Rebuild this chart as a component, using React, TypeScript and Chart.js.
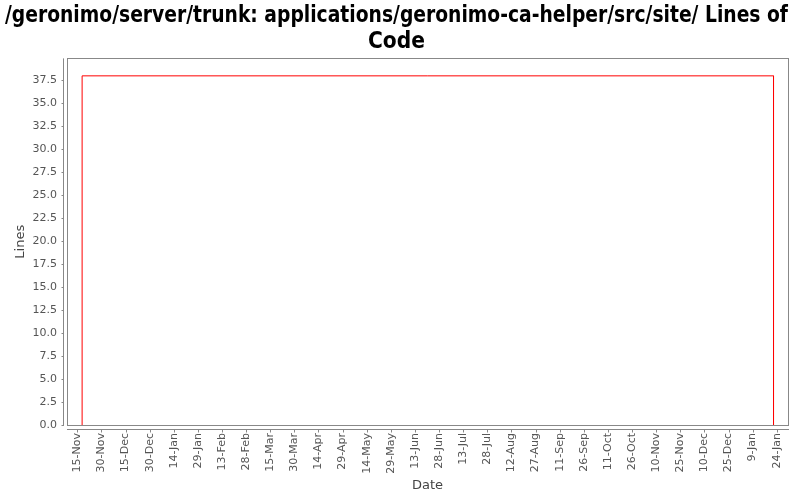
import React, { useEffect, useRef } from "react";
import { Chart, registerables } from "chart.js";

Chart.register(...registerables);

const titleLines = [
  "/geronimo/server/trunk: applications/geronimo-ca-helper/src/site/ Lines of",
  "Code",
];
// x tick labels, 15 days apart, starting at 15-Nov (day 0)
const tickLabels = [
  "15-Nov", "30-Nov", "15-Dec", "30-Dec", "14-Jan", "29-Jan", "13-Feb", "28-Feb",
  "15-Mar", "30-Mar", "14-Apr", "29-Apr", "14-May", "29-May", "13-Jun", "28-Jun",
  "13-Jul", "28-Jul", "12-Aug", "27-Aug", "11-Sep", "26-Sep", "11-Oct", "26-Oct",
  "10-Nov", "25-Nov", "10-Dec", "25-Dec", "9-Jan", "24-Jan",
];
const tickIntervalDays = 15;
// series: day offset from 15-Nov, lines of code
const lineDays = [3, 3, 433, 433];
const lineValues = [0, 38, 38, 0];

const AXIS_GREY = "#888888";

const axisPlugin = {
  id: "jfreeAxes",
  afterDraw(chart: any) {
    const { ctx, chartArea } = chart;
    const { left, right, top, bottom } = chartArea;
    ctx.save();
    ctx.strokeStyle = AXIS_GREY;
    ctx.lineWidth = 1;
    ctx.strokeRect(Math.round(left) + 0.5, Math.round(top) + 0.5, Math.round(right - left), Math.round(bottom - top));
    const ax = Math.round(left) - 4 + 0.5;
    ctx.beginPath();
    ctx.moveTo(ax, top);
    ctx.lineTo(ax, bottom + 1);
    const ys = chart.scales.y;
    ys.ticks.forEach((t: any) => {
      const py = Math.round(ys.getPixelForValue(t.value)) + 0.5;
      ctx.moveTo(ax - 2, py);
      ctx.lineTo(ax, py);
    });
    const ay = Math.round(bottom) + 4 + 0.5;
    ctx.moveTo(left, ay);
    ctx.lineTo(right + 1, ay);
    const xs = chart.scales.x;
    xs.ticks.forEach((t: any) => {
      const px = Math.round(xs.getPixelForValue(t.value)) + 0.5;
      ctx.moveTo(px, ay);
      ctx.lineTo(px, ay + 3);
    });
    ctx.stroke();
    ctx.restore();
  },
};

export default function App() {
  const ref = useRef<HTMLCanvasElement>(null);
  useEffect(() => {
    document.body.style.margin = "0";
    const points = lineDays.map((d, i) => ({ x: d, y: lineValues[i] }));
    const chart = new Chart(ref.current!, {
      type: "line",
      data: {
        datasets: [
          {
            data: points,
            borderColor: "#ff0000",
            borderWidth: 1,
            pointRadius: 0,
            tension: 0,
            fill: false,
          },
        ],
      },
      options: {
        animation: false,
        responsive: false,
        maintainAspectRatio: false,
        layout: { padding: { left: 5, right: 12, top: 0, bottom: 0 } },
        plugins: {
          legend: { display: false },
          tooltip: { enabled: false },
          title: {
            display: true,
            text: titleLines,
            color: "#000000",
            font: { family: "'Liberation Sans Narrow', 'DejaVu Sans Condensed', sans-serif", size: 22.5, weight: "bold", lineHeight: 1.12 },
            padding: { top: 4, bottom: 4 },
          },
        },
        scales: {
          x: {
            type: "linear",
            min: -6.4,
            max: 442,
            grid: { display: false, drawTicks: false },
            border: { display: false },
            afterBuildTicks: (scale: any) => {
              scale.ticks = tickLabels.map((_, i) => ({ value: i * tickIntervalDays }));
            },
            afterFit: (scale: any) => {
              scale.height = 75;
            },
            ticks: {
              autoSkip: false,
              minRotation: 90,
              maxRotation: 90,
              padding: 8,
              color: "#555555",
              font: { family: "'DejaVu Sans', sans-serif", size: 11 },
              callback: (_v: any, i: number) => tickLabels[i],
            },
            title: {
              display: true,
              text: "Date",
              color: "#444444",
              font: { family: "'DejaVu Sans', sans-serif", size: 13 },
              padding: { top: 0, bottom: 7 },
            },
          },
          y: {
            type: "linear",
            min: 0,
            max: 39.9,
            grid: { display: false, drawTicks: false },
            border: { display: false },
            afterBuildTicks: (scale: any) => {
              scale.ticks = scale.ticks.filter((t: any) => Math.abs(t.value / 2.5 - Math.round(t.value / 2.5)) < 1e-6);
            },
            afterFit: (scale: any) => {
              scale.width = 62;
            },
            ticks: {
              stepSize: 2.5,
              padding: 10,
              color: "#555555",
              font: { family: "'DejaVu Sans', sans-serif", size: 11 },
              callback: (v: any) => Number(v).toFixed(1),
            },
            title: {
              display: true,
              text: "Lines",
              color: "#444444",
              font: { family: "'DejaVu Sans', sans-serif", size: 13 },
              padding: { top: 8, bottom: 0 },
            },
          },
        },
      },
      plugins: [axisPlugin],
    });
    return () => chart.destroy();
  }, []);
  return (
    <div style={{ width: 800, height: 500 }}>
      <canvas ref={ref} width={800} height={500} style={{ display: "block" }} />
    </div>
  );
}
